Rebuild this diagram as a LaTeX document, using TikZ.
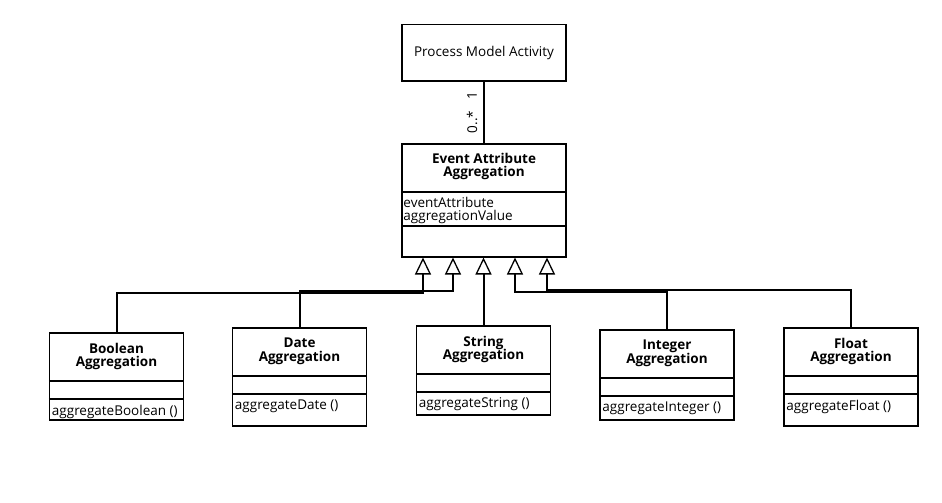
\documentclass[tikz,border=0pt]{standalone}
\usepackage{fontspec}
\setmainfont{Open Sans}
\usetikzlibrary{arrows.meta,positioning}

\tikzset{
  cls/.style={draw, line width=1.5pt, minimum width=134pt, anchor=north, inner sep=0pt},
  clstitle/.style={font=\bfseries\fontsize{13.5}{13.5}\selectfont, align=center, inner sep=0pt},
  clsop/.style={font=\fontsize{13.5}{13.5}\selectfont, align=left, inner xsep=3pt, inner ysep=1pt},
  divider/.style={line width=1.5pt},
  mult/.style={font=\fontsize{13.5}{13.5}\selectfont, inner sep=0pt},
  assoc/.style={line width=2pt},
  gen/.style={line width=2pt, -{Triangle[open,length=17pt,width=16pt,line width=1.3pt]}}
}

% one subclass box: name, position of top, height, title, operation
\newcommand{\aggclass}[5]{%
  \node[cls, minimum height=#3pt] (#1) at (#2) {};
  \node[clstitle] (#1-title) at ([yshift=-24.5pt]#1.north) {#4};
  \draw[divider] ([yshift=-49pt]#1.north west) -- ([yshift=-49pt]#1.north east);
  \draw[divider] ([yshift=-67pt]#1.north west) -- ([yshift=-67pt]#1.north east);
  \node[clsop, anchor=west] (#1-op) at ([yshift=-79.5pt]#1.north west) {#5};
}

\begin{document}
\begin{tikzpicture}[x=1pt,y=-1pt]
  \useasboundingbox (0,0) rectangle (942,503);

  % top classes
  \node[cls, minimum width=164pt, minimum height=56pt, font=\fontsize{13.5}{13.5}\selectfont] (proc) at (484,24) {Process Model Activity};
  \node[cls, minimum width=164pt, minimum height=113pt] (evt) at (484,143) {};
  \node[clstitle] (evt-title) at ([yshift=-23.5pt]evt.north) {Event Attribute\\Aggregation};
  \draw[divider] ([yshift=-49pt]evt.north west) -- ([yshift=-49pt]evt.north east);
  \draw[divider] ([yshift=-83pt]evt.north west) -- ([yshift=-83pt]evt.north east);
  \node[clsop, anchor=west, inner xsep=2pt] (evt-attr) at ([yshift=-67.5pt]evt.north west) {eventAttribute\\aggregationValue};

  \draw[assoc] (proc.south) -- (evt.north);
  \node[mult, rotate=90] (m-one) at (472,96) {1};
  \node[mult, rotate=90] (m-many) at (472,122) {0..*};

  % subclasses
  \aggclass{bool}{116.5,332}{87}{Boolean\\Aggregation}{aggregateBoolean ()}
  \aggclass{date}{299.5,327}{98}{Date\\Aggregation}{aggregateDate ()}
  \aggclass{str}{483.5,325}{89}{String\\Aggregation}{aggregateString ()}
  \aggclass{int}{667,329}{90}{Integer\\Aggregation}{aggregateInteger ()}
  \aggclass{flt}{851,327}{98}{Float\\Aggregation}{aggregateFloat ()}

  % generalisation
  \coordinate (t1) at ([xshift=-61pt]evt.south);
  \coordinate (t2) at ([xshift=-31pt]evt.south);
  \coordinate (t3) at ([xshift=-0.5pt]evt.south);
  \coordinate (t4) at ([xshift=31pt]evt.south);
  \coordinate (t5) at ([xshift=63pt]evt.south);

  \draw[gen] (bool.north) -- ++(0,-39) -| (t1);
  \draw[gen] (date.north) -- ++(0,-36) -| (t2);
  \draw[gen] (str.north) -- (t3);
  \draw[gen] (int.north) -- ++(0,-37) -| (t4);
  \draw[gen] (flt.north) -- ++(0,-37) -| (t5);
\end{tikzpicture}
\end{document}
